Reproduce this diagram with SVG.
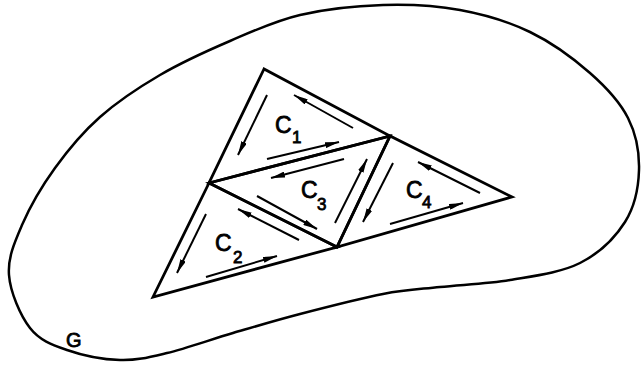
<svg xmlns="http://www.w3.org/2000/svg" width="641" height="368" viewBox="0 0 641 368">
<style>
.bound{fill:none;stroke:#000;stroke-width:2.5;stroke-linejoin:round}
.tri{fill:none;stroke:#000;stroke-width:2.8;stroke-linejoin:miter}
.arr{stroke:#000;stroke-width:2;fill:none;marker-end:url(#ah)}
.lbl{font-family:"Liberation Sans","DejaVu Sans",sans-serif;font-size:23px;fill:#000;stroke:#000;stroke-width:0.8}
.sub{font-size:17px}
.g{font-family:"Liberation Sans","DejaVu Sans",sans-serif;font-size:20px;fill:#000;stroke:#000;stroke-width:0.8}
</style>
<defs>
<marker id="ah" viewBox="0 0 14 6" refX="14" refY="3" markerWidth="14" markerHeight="6" markerUnits="userSpaceOnUse" orient="auto">
<path d="M0,0 L14,3 L0,6 Z" fill="#000"/>
</marker>
</defs>
<rect width="641" height="368" fill="#fff"/>
<g id="region-G">
<path class="bound" d="M9,275 C7.7,257.8 14.3,242.8 22,225 C29.7,207.2 42,186 55,168 C68,150 82.5,132.5 100,117 C117.5,101.5 138.3,87.7 160,75 C181.7,62.3 206.7,51 230,41 C253.3,31 274.5,21 300,15 C325.5,9 356.3,5.8 383,5 C409.7,4.2 435.5,5.5 460,10 C484.5,14.5 508.3,21.5 530,32 C551.7,42.5 573.7,58.7 590,73 C606.3,87.3 619.8,101.8 628,118 C636.2,134.2 639.5,152.7 639,170 C638.5,187.3 634.8,206.5 625,222 C615.2,237.5 599.2,253.3 580,263 C560.8,272.7 533.3,276 510,280 C486.7,284 461.2,284.7 440,287 C418.8,289.3 406.3,289.5 383,294 C359.7,298.5 325,307.5 300,314 C275,320.5 255.2,326.5 233,333 C210.8,339.5 185.8,348.5 167,353 C148.2,357.5 136.7,360.5 120,360 C103.3,359.5 82,355.3 67,350 C52,344.7 39.7,340.5 30,328 C20.3,315.5 10.3,292.2 9,275 Z"/>
<text class="g" x="66" y="347">G</text>
</g>
<g id="C1">
<polygon class="tri" points="264,69 209,183 390,136"/>
<text class="lbl" x="275" y="133">C<tspan class="sub" x="292" y="143">1</tspan></text>
</g>
<g id="C3">
<polygon class="tri" points="209,183 390,136 337,247"/>
<text class="lbl" x="301" y="198">C<tspan class="sub" x="317" y="210">3</tspan></text>
</g>
<g id="C2">
<polygon class="tri" points="209,183 153,297 337,247"/>
<text class="lbl" x="215" y="251">C<tspan class="sub" x="233" y="263">2</tspan></text>
</g>
<g id="C4">
<polygon class="tri" points="390,136 337,247 512,197"/>
<text class="lbl" x="406" y="198">C<tspan class="sub" x="422" y="208">4</tspan></text>
</g>
<g id="connectors">
<line class="arr" x1="267" y1="95" x2="238" y2="155"/>
<line class="arr" x1="267" y1="159" x2="339" y2="142"/>
<line class="arr" x1="353" y1="128" x2="294" y2="95"/>
<line class="arr" x1="344" y1="159" x2="271" y2="178"/>
<line class="arr" x1="335" y1="223" x2="367" y2="159"/>
<line class="arr" x1="257" y1="196" x2="317" y2="229"/>
<line class="arr" x1="206" y1="214" x2="177" y2="273"/>
<line class="arr" x1="206" y1="277" x2="277" y2="256"/>
<line class="arr" x1="299" y1="240" x2="238" y2="209"/>
<line class="arr" x1="393" y1="163" x2="363" y2="222"/>
<line class="arr" x1="390" y1="224" x2="463" y2="203"/>
<line class="arr" x1="480" y1="193" x2="418" y2="162"/>
</g>
</svg>
